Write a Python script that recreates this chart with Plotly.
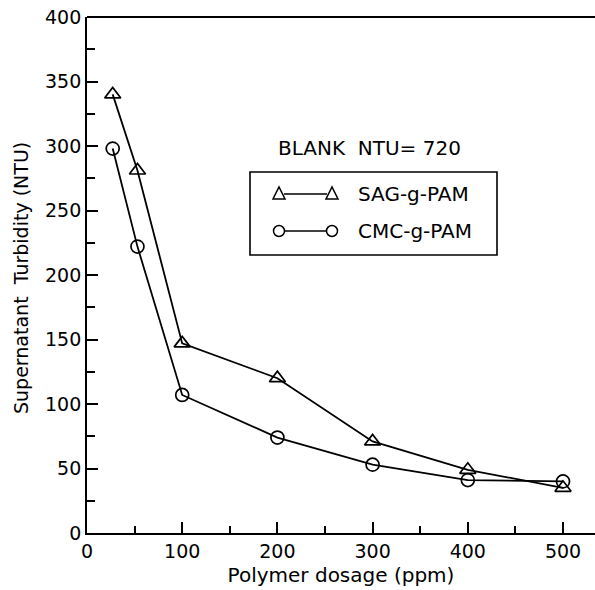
import plotly.graph_objects as go

dosage = [27, 53, 100, 200, 300, 400, 500]
sag = [340, 281, 147, 120, 71, 49, 35]
cmc = [298, 222, 107, 74, 53, 41, 40]
x_ticks = [0, 100, 200, 300, 400, 500]
y_ticks = [0, 50, 100, 150, 200, 250, 300, 350, 400]
FONT = "DejaVu Sans"

fig = go.Figure()
fig.add_trace(go.Scatter(x=dosage, y=sag, mode="lines+markers", name="SAG-g-PAM",
                         line=dict(color="black", width=1.8),
                         marker=dict(symbol="triangle-up-open", size=14, color="black",
                                     line=dict(width=1.7))))
fig.add_trace(go.Scatter(x=dosage, y=cmc, mode="lines+markers", name="CMC-g-PAM",
                         line=dict(color="black", width=1.8),
                         marker=dict(symbol="circle-open", size=13, color="black",
                                     line=dict(width=1.7))))

axis_common = dict(showgrid=False, zeroline=False, showline=True, linecolor="black",
                   linewidth=1.8, ticks="inside", ticklen=11, tickwidth=1.5,
                   tickcolor="black", tickfont=dict(family=FONT, size=19, color="black"))
fig.update_xaxes(range=[0, 533.6], tickvals=x_ticks, mirror=False,
                 minor=dict(ticks="inside", ticklen=7, tickwidth=1.5, dtick=50,
                            tickcolor="black"),
                 title=dict(text="Polymer dosage (ppm)", font=dict(family=FONT, size=20, color="black"),
                            standoff=7),
                 **axis_common)
fig.update_yaxes(range=[0, 400], tickvals=y_ticks,
                 minor=dict(ticks="inside", ticklen=8, tickwidth=1.5, dtick=25,
                            tickcolor="black"),
                 **axis_common)

# top border
fig.add_shape(type="line", xref="paper", yref="paper", x0=0, x1=1, y0=1, y1=1,
              line=dict(color="black", width=1.8))

W, H = 595 - 87, 533 - 17
def px(x):  # pixel x -> paper
    return (x - 87) / W
def py(y):
    return (533 - y) / H

# y-axis title
fig.add_annotation(xref="paper", yref="paper", x=px(21), y=py(278), textangle=-90,
                   xanchor="center", yanchor="middle", showarrow=False,
                   text="Supernatant  Turbidity (NTU)",
                   font=dict(family=FONT, size=19, color="black"))

# custom legend (paper coordinates)
fig.add_shape(type="rect", xref="paper", yref="paper",
              x0=px(250), x1=px(497), y0=py(255), y1=py(172),
              line=dict(color="black", width=1.6))
fig.add_annotation(xref="paper", yref="paper", x=px(276), y=py(148), xanchor="left",
                   yanchor="middle", showarrow=False, text="BLANK  NTU= 720",
                   font=dict(family=FONT, size=20, color="black"))
for yy, sym, label in [(194, "tri", "SAG-g-PAM"), (231, "circ", "CMC-g-PAM")]:
    fig.add_shape(type="line", xref="paper", yref="paper", x0=px(284), x1=px(327),
                  y0=py(yy), y1=py(yy), line=dict(color="black", width=1.6))
    for cx in (279, 332):
        if sym == "circ":
            fig.add_shape(type="circle", xref="paper", yref="paper",
                          x0=px(cx - 5.5), x1=px(cx + 5.5), y0=py(yy + 5.5), y1=py(yy - 5.5),
                          line=dict(color="black", width=1.5), fillcolor="white")
        else:
            fig.add_shape(type="path", xref="paper", yref="paper",
                          path=f"M {px(cx-6)} {py(yy+5)} L {px(cx+6)} {py(yy+5)} L {px(cx)} {py(yy-7)} Z",
                          line=dict(color="black", width=1.5), fillcolor="white")
    fig.add_annotation(xref="paper", yref="paper", x=px(356), y=py(yy), xanchor="left",
                       yanchor="middle", showarrow=False, text=label,
                       font=dict(family=FONT, size=20, color="black"))

fig.update_layout(width=595, height=590, margin=dict(l=87, r=0, t=17, b=57),
                  plot_bgcolor="white", paper_bgcolor="white", showlegend=False)
fig.write_html("out.html")
